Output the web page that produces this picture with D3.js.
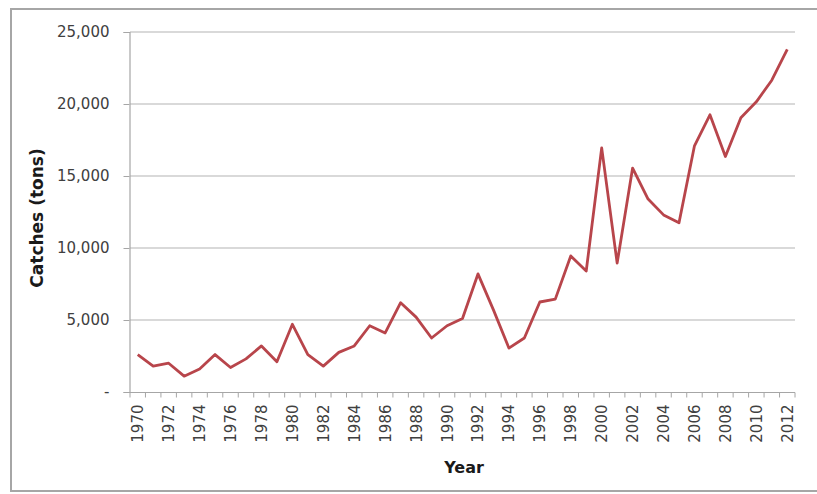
<!DOCTYPE html>
<html>
<head>
<meta charset="utf-8">
<script src="https://cdn.jsdelivr.net/npm/d3@7"></script>
<style>
  html, body { margin: 0; padding: 0; background: #fff; }
  svg { display: block; }
  text { font-family: "DejaVu Sans", sans-serif; }
</style>
</head>
<body>
<svg id="chart" width="817" height="494"></svg>
<script>
// Annual catches, 1970–2012 (tons)
const years = d3.range(1970, 2013);
const catches = [
  2600, 1800, 2000, 1100, 1600, 2600, 1700, 2300, 3200, 2100,
  4700, 2600, 1800, 2750, 3200, 4600, 4100, 6200, 5200, 3750,
  4600, 5100, 8200, 5700, 3050, 3750, 6250, 6450, 9450, 8400,
  16950, 8950, 15550, 13400, 12300, 11750, 17100, 19250, 16350, 19050,
  20150, 21650, 23800
];
const yTicks = [0, 5000, 10000, 15000, 20000, 25000];
const xLabelYears = years.filter(y => (y - 1970) % 2 === 0);

const svg = d3.select("#chart");

// outer chart frame
svg.append("rect")
  .attr("x", 11).attr("y", 9)
  .attr("width", 820).attr("height", 482)
  .attr("fill", "#fff")
  .attr("stroke", "#a6a6a6").attr("stroke-width", 2);

const plot = { left: 130, right: 795, top: 32, bottom: 392 };

const x = d3.scaleBand()
  .domain(years)
  .range([plot.left, plot.right]);

const y = d3.scaleLinear()
  .domain([0, 25000])
  .range([plot.bottom, plot.top]);

const fmt = v => v === 0 ? "-" : d3.format(",")(v);

// horizontal gridlines
svg.append("g")
  .selectAll("line")
  .data(yTicks.filter(v => v > 0))
  .join("line")
  .attr("x1", plot.left).attr("x2", plot.right)
  .attr("y1", d => y(d)).attr("y2", d => y(d))
  .attr("stroke", "#b3b3b3").attr("stroke-width", 1.2);

// y axis
const yAxis = svg.append("g")
  .attr("transform", `translate(${plot.left - 0.5},0)`)
  .call(d3.axisLeft(y).tickValues(yTicks).tickFormat(fmt).tickSize(6).tickPadding(14));
yAxis.select(".domain").attr("stroke", "#a6a6a6").attr("stroke-width", 1.2);
yAxis.selectAll(".tick line").attr("stroke", "#a6a6a6");
yAxis.selectAll(".tick text")
  .attr("fill", "#404040")
  .style("font-size", "15px")
  .style("font-family", "'DejaVu Sans', sans-serif");

// x axis: tick marks at category boundaries, labels at category centres
const xg = svg.append("g").attr("transform", `translate(0,${plot.bottom + 0.5})`);
xg.append("line")
  .attr("x1", plot.left).attr("x2", plot.right)
  .attr("stroke", "#a6a6a6").attr("stroke-width", 1.2);
xg.selectAll("line.tk")
  .data(years.concat([2013]))
  .join("line")
  .attr("class", "tk")
  .attr("x1", (d, i) => i < years.length ? x(d) : plot.right)
  .attr("x2", (d, i) => i < years.length ? x(d) : plot.right)
  .attr("y1", 0).attr("y2", 5)
  .attr("stroke", "#a6a6a6");
xg.selectAll("text")
  .data(xLabelYears)
  .join("text")
  .attr("transform", d => `translate(${x(d) + x.bandwidth() / 2 + 5.5},12) rotate(-90)`)
  .attr("text-anchor", "end")
  .attr("fill", "#404040")
  .style("font-size", "15px")
  .text(d => d);

// series line
const line = d3.line()
  .x((d, i) => x(years[i]) + x.bandwidth() / 2)
  .y(d => y(d));

svg.append("path")
  .datum(catches)
  .attr("d", line)
  .attr("fill", "none")
  .attr("stroke", "#b8454b")
  .attr("stroke-width", 2.8)
  .attr("stroke-linejoin", "round");

// axis titles
svg.append("text")
  .attr("transform", `translate(43,218) rotate(-90)`)
  .attr("text-anchor", "middle")
  .attr("fill", "#1a1a1a")
  .style("font-size", "17px")
  .style("font-weight", "bold")
  .text("Catches (tons)");

svg.append("text")
  .attr("x", 464).attr("y", 473)
  .attr("text-anchor", "middle")
  .attr("fill", "#1a1a1a")
  .style("font-size", "16px")
  .style("font-weight", "bold")
  .text("Year");
</script>
</body>
</html>
